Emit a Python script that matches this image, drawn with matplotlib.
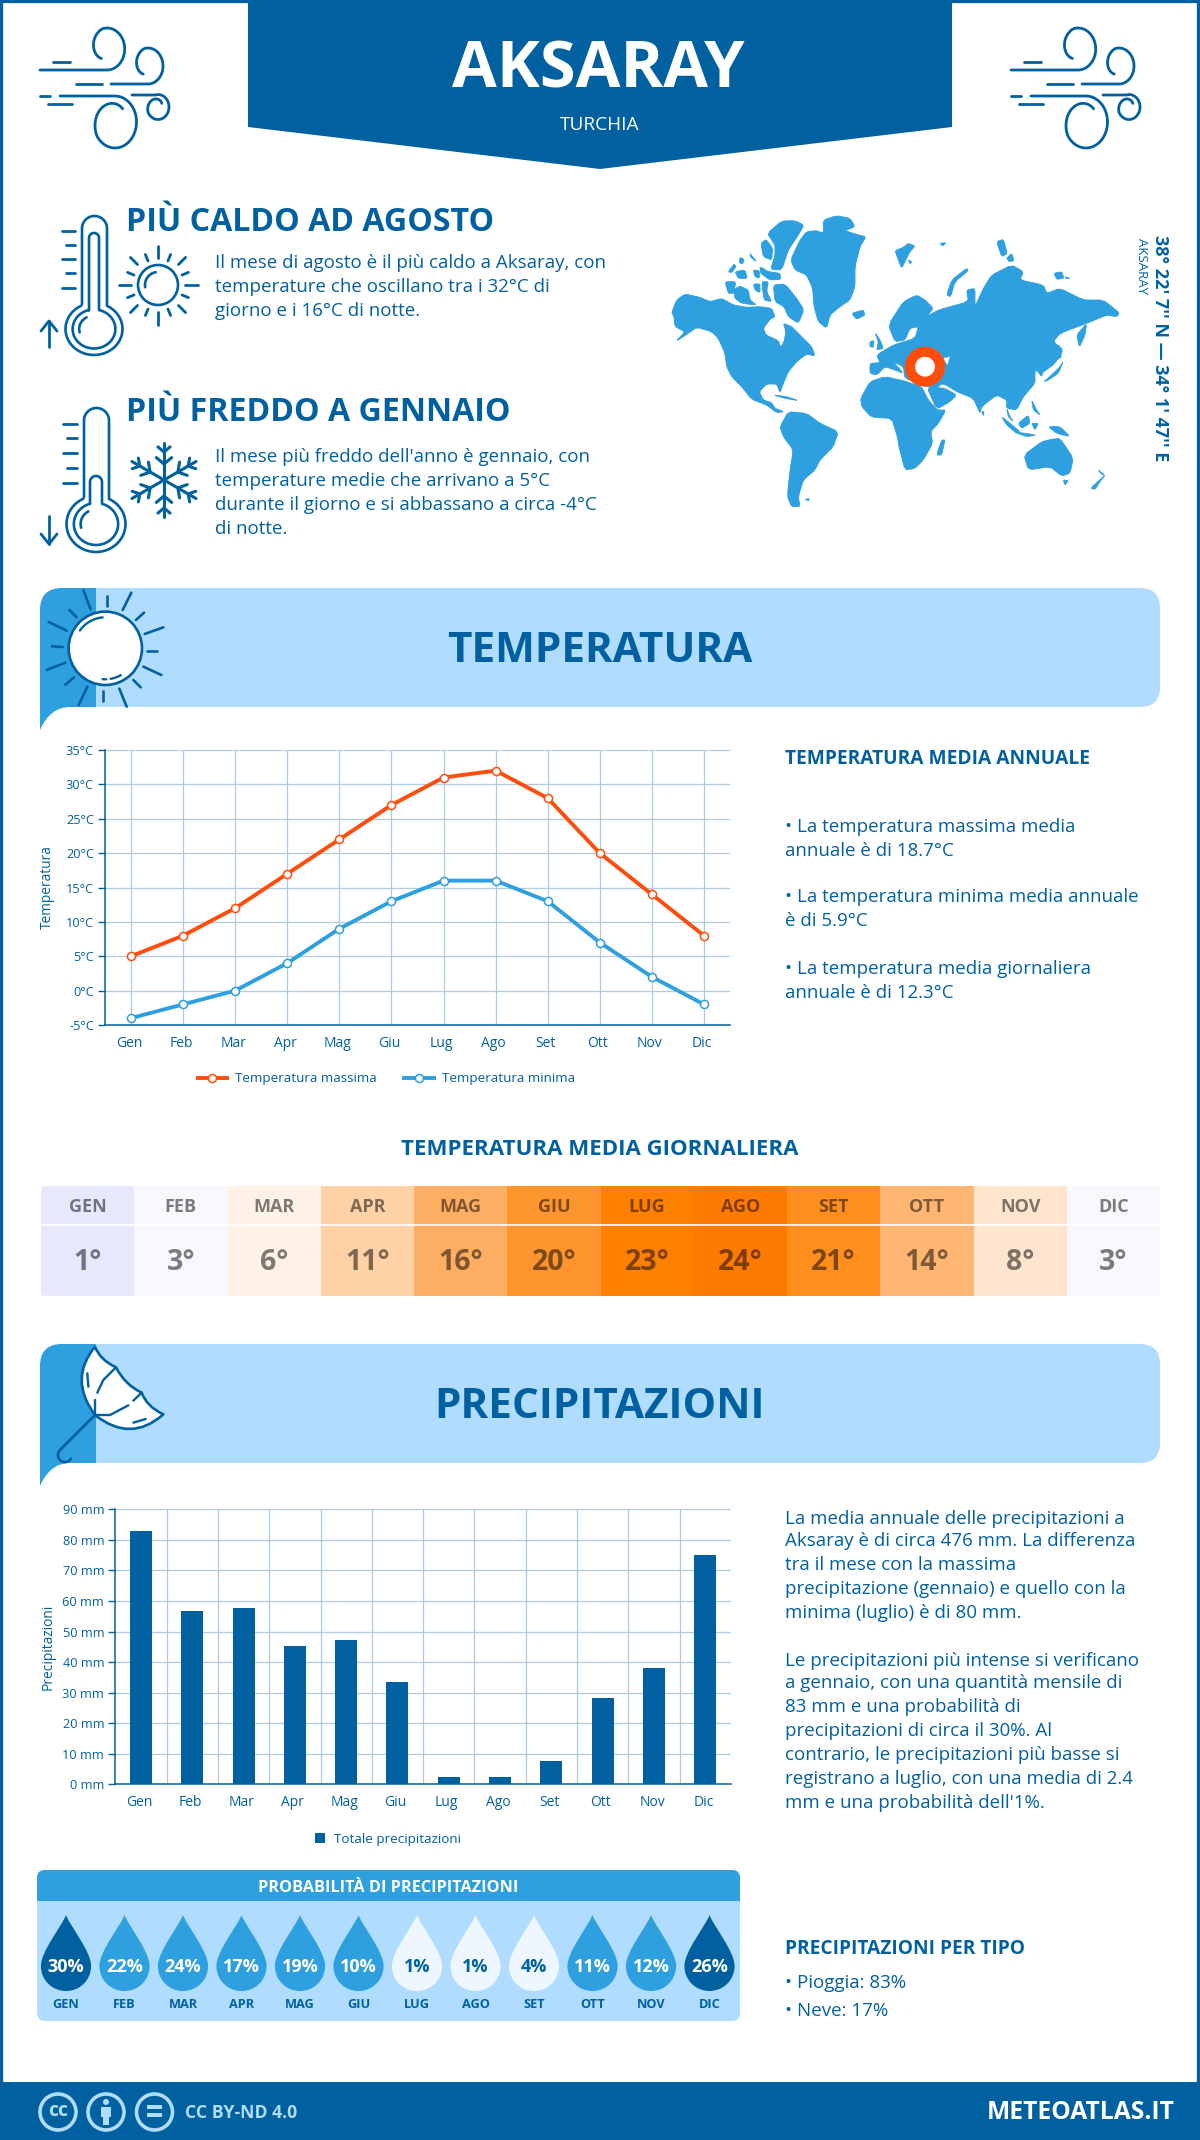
import numpy as np
import matplotlib
matplotlib.use("Agg")
import matplotlib.pyplot as plt
from matplotlib.colors import LinearSegmentedColormap
from matplotlib.markers import MarkerStyle
from matplotlib.patches import Circle, Ellipse, FancyBboxPatch, PathPatch, Polygon, Rectangle
from matplotlib.path import Path
from matplotlib.transforms import ScaledTranslation

plt.rcParams["font.family"] = ["Open Sans", "DejaVu Sans"]

W, H = 1200, 2140
DARK = "#01609f"
MID = "#2e9fdf"
LIGHT = "#afdcff"
PALE = "#eef7ff"
ORANGE = "#ff4d0d"
GRID = "#aecbe0"

months = ["Gen", "Feb", "Mar", "Apr", "Mag", "Giu", "Lug", "Ago", "Set", "Ott", "Nov", "Dic"]
months_upper = ["GEN", "FEB", "MAR", "APR", "MAG", "GIU", "LUG", "AGO", "SET", "OTT", "NOV", "DIC"]

temp_max = [5, 8, 12, 17, 22, 27, 31, 32, 28, 20, 14, 8]
temp_min = [-4, -2, 0, 4, 9, 13, 16, 16, 13, 7, 2, -2]
temp_mean = [1, 3, 6, 11, 16, 20, 23, 24, 21, 14, 8, 3]
temp_ticks = [-5, 0, 5, 10, 15, 20, 25, 30, 35]

precip = [83, 56.7, 57.7, 45.3, 47.2, 33.5, 2.4, 2.4, 7.6, 28.3, 38.1, 75]
precip_ticks = [0, 10, 20, 30, 40, 50, 60, 70, 80, 90]
precip_prob = [30, 22, 24, 17, 19, 10, 1, 1, 4, 11, 12, 26]

# colour scale of the daily mean strip, value -> colour
heat_stops = [(1, "#e8e8fd"), (3, "#f7f7fe"), (6, "#fef2e6"), (8, "#fee5cd"), (11, "#fed2a6"),
              (14, "#feb672"), (16, "#feae62"), (20, "#fe952e"), (21, "#fe8f1f"), (23, "#fe8000"),
              (24, "#ff7a00")]

hot_lines = ["Il mese di agosto è il più caldo a Aksaray, con",
             "temperature che oscillano tra i 32°C di",
             "giorno e i 16°C di notte."]
cold_lines = ["Il mese più freddo dell'anno è gennaio, con",
              "temperature medie che arrivano a 5°C",
              "durante il giorno e si abbassano a circa -4°C",
              "di notte."]
temp_lines = [(825, "• La temperatura massima media"), (850, "annuale è di 18.7°C"),
              (896, "• La temperatura minima media annuale"), (920, "è di 5.9°C"),
              (967, "• La temperatura media giornaliera"), (991, "annuale è di 12.3°C")]
rain_lines = [(1517, "La media annuale delle precipitazioni a"),
              (1540, "Aksaray è di circa 476 mm. La differenza"),
              (1564, "tra il mese con la massima"),
              (1588, "precipitazione (gennaio) e quello con la"),
              (1612, "minima (luglio) è di 80 mm."),
              (1659, "Le precipitazioni più intense si verificano"),
              (1682, "a gennaio, con una quantità mensile di"),
              (1706, "83 mm e una probabilità di"),
              (1730, "precipitazioni di circa il 30%. Al"),
              (1754, "contrario, le precipitazioni più basse si"),
              (1778, "registrano a luglio, con una media di 2.4"),
              (1802, "mm e una probabilità dell'1%.")]

# world map outlines traced by eye from 3x crops: americas crop starts at x=660, the rest at x=860
land_west = [
    [(35,308),(50,270),(75,252),(120,262),(150,275),(185,265),(220,285),(260,292),(300,290),(335,295),(345,320),(330,328),(310,355),(318,375),(355,392),(362,412),(372,395),(378,365),(370,340),(395,350),(420,375),(455,410),(465,438),(440,432),(410,455),(385,485),(370,520),(360,548),(350,522),(320,522),(298,545),(310,570),(335,578),(345,595),(372,605),(350,608),(320,585),(275,568),(245,530),(215,500),(200,470),(195,430),(175,385),(155,365),(110,352),(85,370),(48,394),(75,365),(45,350),(42,320)],
    [(340,225),(375,222),(410,265),(432,300),(415,340),(385,320),(372,290),(345,275)],
    [(322,70),(365,33),(405,32),(432,45),(415,75),(385,120),(365,180),(332,178),(345,135),(345,105)],
    [(303,100),(318,88),(338,115),(335,150),(310,140)],
    [(392,150),(420,90),(440,65),(470,62),(490,70),(490,30),(530,17),(570,25),(585,50),(555,62),(595,75),(618,80),(600,110),(585,170),(585,230),(570,270),(540,290),(510,315),(500,355),(475,335),(462,290),(458,235),(440,195),(405,180)],
    [(195,215),(228,215),(220,250),(205,250)],
    [(220,240),(240,228),(265,240),(270,270),(290,285),(245,280),(225,265)],
    [(280,222),(300,222),(300,248),(285,240)],
    [(305,215),(325,215),(320,245),(335,275),(312,270)],
    [(225,185),(255,180),(262,205),(235,205)],
    [(205,185),(222,162),(228,170),(215,188)],
    [(240,142),(252,148),(248,162),(238,158)],
    [(270,130),(290,155),(272,142)],
    [(280,180),(298,182),(298,205),(285,200)],
    [(300,170),(325,185),(360,190),(362,208),(330,210),(302,190)],
    [(575,310),(610,300),(615,315),(590,328)],
    [(360,650),(385,605),(440,610),(480,640),(535,665),(520,710),(480,750),(465,780),(430,810),(415,860),(420,890),(395,890),(382,860),(390,780),(400,720),(370,680)],
    [(340,555),(380,560),(415,572),(375,565)],
    [(435,868),(448,866),(446,872)],
]
land_east = [
    [(2,565),(30,515),(75,500),(130,512),(185,530),(205,570),(232,600),(258,600),(235,640),(212,665),(218,700),(190,750),(165,775),(135,780),(118,715),(112,680),(95,625),(35,622),(5,590)],
    [(200,530),(255,535),(290,555),(270,575),(230,598)],
    [(30,460),(60,458),(50,435),(100,405),(165,385),(175,350),(150,355),(135,390),(105,395),(85,345),(130,275),(170,255),(195,270),(220,295),(200,320),(235,300),(325,275),(320,240),(345,235),(345,290),(370,235),(395,195),(455,165),(490,185),(480,210),(550,225),(560,250),(600,235),(670,270),(730,270),(778,308),(770,320),(740,315),(680,340),(600,370),(580,395),(610,420),(585,460),(545,490),(525,480),(525,520),(490,560),(470,600),(440,595),(440,570),(410,555),(365,590),(360,610),(340,565),(290,545),(250,520),(225,535),(190,525),(135,505),(130,470),(100,455),(130,490),(105,480),(75,470),(50,495),(30,490)],
    [(45,368),(60,390),(70,415),(50,420),(55,395)],
    [(30,395),(42,392),(40,412),(30,410)],
    [(260,255),(275,210),(320,175),(325,182),(285,215),(272,260)],
    [(105,122),(130,112),(145,100),(165,108),(150,125),(140,145),(125,175),(115,150)],
    [(145,150),(155,155),(150,162)],
    [(410,95),(430,88),(442,130),(425,140)],
    [(440,145),(455,130),(462,152),(448,155)],
    [(240,100),(258,98),(248,108)],
    [(582,190),(605,185),(612,205),(590,208)],
    [(615,200),(630,205),(618,205)],
    [(650,375),(680,340),(675,375),(658,412)],
    [(552,515),(580,490),(600,470),(610,455),(595,490),(565,510)],
    [(595,400),(605,440),(590,450)],
    [(530,480),(550,480),(545,500)],
    [(425,620),(450,640),(480,665),(470,670),(440,645)],
    [(460,665),(530,675),(500,680)],
    [(475,640),(505,615),(510,640),(485,655)],
    [(515,640),(535,640),(525,660)],
    [(515,570),(530,600),(540,615),(520,600)],
    [(565,650),(600,650),(630,680),(590,670)],
    [(440,595),(450,620),(460,635),(445,620)],
    [(492,735),(545,695),(575,688),(600,685),(640,745),(630,790),(605,798),(570,770),(505,780)],
    [(230,735),(245,690),(255,690),(245,735)],
    [(692,835),(735,795),(720,815),(705,838)],
    [(715,780),(735,797),(722,790)],
    [(610,810),(625,812),(615,825)],
    [(365,605),(372,605),(370,617)],
]
inland_sea = [[(250,445),(270,440),(262,465)]]

fig = plt.figure(figsize=(W / 100, H / 100), dpi=100, facecolor="white")

# whole-page axes in pixel coordinates, for the infographic furniture
bg = fig.add_axes([0, 0, 1, 1])
bg.set_xlim(0, W)
bg.set_ylim(H, 0)
bg.axis("off")


def px_axes(left, top, right, bottom):
    ax = fig.add_axes([left / W, 1 - bottom / H, (right - left) / W, (bottom - top) / H])
    ax.patch.set_alpha(0)
    return ax


def put(x, y, s, size, weight="normal", color=DARK, ha="left", **kw):
    return bg.text(x, y + 1.5, s, fontsize=size, fontweight=weight, color=color, ha=ha, va="center", **kw)


def arc(cx, cy, rx, ry, a0, a1, shrink=1.0, n=60):
    t = np.radians(np.linspace(a0, a1, n))
    # radius holds for the first part of the turn, then winds inward
    k = np.interp(np.linspace(0, 1, n), [0, 0.6, 1], [1, 1, shrink])
    return list(zip(cx + rx * k * np.cos(t), cy + ry * k * np.sin(t)))


def stroke(points, lw=2.0, color=DARK, **kw):
    xs, ys = zip(*points)
    bg.plot(xs, ys, color=color, lw=lw, solid_capstyle="round", solid_joinstyle="round", **kw)


def soften(points):
    # one light pass of corner cutting, takes the polygon look off the coastlines
    pts = np.array(points, dtype=float)
    nxt = np.roll(pts, -1, axis=0)
    return np.column_stack([0.85 * pts + 0.15 * nxt, 0.15 * pts + 0.85 * nxt]).reshape(-1, 2)


def shift_labels(ax, dx_px):
    # the month labels sit a touch left of their ticks in the original
    off = ScaledTranslation(dx_px / 100, 0, fig.dpi_scale_trans)
    for label in ax.get_xticklabels():
        label.set_transform(label.get_transform() + off)


def wind_icon(dx):
    def sh(pts):
        return [(x + dx, y) for x, y in pts]
    stroke(sh([(40, 70), (105, 70)] + arc(107, 49, 17.7, 21, 90, -235, 0.55)))
    stroke(sh([(111, 84), (146, 84)] + arc(148, 66, 15, 18, 90, -235, 0.55)))
    stroke(sh([(60, 96), (112, 96)] + arc(115, 122, 21.5, 26, -90, 305, 0.62)))
    stroke(sh([(132, 95), (155, 95)] + arc(158, 107, 11, 12.5, -90, 320, 0.45)))
    for seg in [[(53, 62), (70, 62)], [(76, 84), (102, 84)], [(40, 96), (50, 96)], [(48, 104), (72, 104)]]:
        stroke(sh(seg))


def band(top, title):
    # dark corner tab, then the light ribbon on top of its right part
    bot = top + 119
    tab = Path([(40, bot + 23), (40, top + 22), (40, top), (62, top), (100, top), (100, bot), (70, bot),
                (50, bot), (40, bot + 23), (40, bot + 23)],
               [Path.MOVETO, Path.LINETO, Path.CURVE3, Path.CURVE3, Path.LINETO, Path.LINETO, Path.LINETO,
                Path.CURVE3, Path.CURVE3, Path.CLOSEPOLY])
    bg.add_patch(PathPatch(tab, fc=MID, ec="none"))
    bg.add_patch(FancyBboxPatch((76, top), 1084, bot - top, boxstyle="round,pad=0,rounding_size=20",
                                fc=LIGHT, ec="none"))
    bg.add_patch(Rectangle((96, top), 40, bot - top, fc=LIGHT, ec="none"))
    bg.add_patch(Rectangle((76, top), 20, bot - top, fc=MID, ec="none"))
    put(600, top + 62, title, 30.4, "bold", ha="center")


def thermometer(x0, x1, top, cx, cy, rx, ry, inner):
    a = np.degrees(np.arcsin((x1 - cx) / rx))
    r = (x1 - x0) / 2
    stroke([(x0, cy - ry * 0.95)] + arc((x0 + x1) / 2, top + r, r, r, 180, 360)
           + arc(cx, cy, rx, ry, -90 + a, 270 - a), lw=1.9)
    i0, i1, itop = inner
    a = np.degrees(np.arcsin((i1 - cx) / (rx * 0.75)))
    r = (i1 - i0) / 2
    stroke([(i0, cy - ry * 0.72)] + arc((i0 + i1) / 2, itop + r, r, r, 180, 360)
           + arc(cx, cy, rx * 0.75, ry * 0.75, -90 + a, 270 - a), lw=1.9)
    stroke(arc(cx, cy, rx * 0.52, ry * 0.52, 165, 240), lw=1.9)


# page frame and header
bg.add_patch(Rectangle((0, 0), W, H, fc="none", ec=DARK, lw=4.5))
bg.add_patch(Polygon([(248, 0), (952, 0), (952, 127), (600, 169), (248, 127)], fc=DARK, ec="none"))
put(598, 70, "AKSARAY", 46.7, "bold", "white", ha="center")
put(600, 124, "TURCHIA", 13.7, color="white", ha="center")
wind_icon(0)
wind_icon(971)

# hottest month block
put(126, 221, "PIÙ CALDO AD AGOSTO", 23.1, "bold")
for y, s in zip([262, 286, 310], hot_lines):
    put(215, y, s, 13.5)
thermometer(82, 107, 216, 94, 329, 28.5, 26, (89, 99, 233))
for i, y in enumerate([231, 245, 259, 273, 288]):
    stroke([(62 if i % 4 == 0 or i == 2 else 66, y), (75, y)], lw=2)
stroke([(49, 347), (49, 321)], lw=2)
stroke([(41, 331), (49, 321), (57, 331)], lw=2)
bg.add_patch(Circle((158, 285), 20, fc="none", ec=DARK, lw=1.9))
stroke(arc(158, 285, 13, 13, 170, 260), lw=1.9)
for i, ang in enumerate(np.arange(0, 360, 22.5)):
    r0, r1 = {0: (27, 39.5), 1: (26, 33)}[i % 2] if i % 4 != 2 else (29, 39)
    t = np.radians(ang)
    stroke([(158 + r0 * np.cos(t), 285 + r0 * np.sin(t)), (158 + r1 * np.cos(t), 285 + r1 * np.sin(t))], lw=2)

# coldest month block
put(126, 411, "PIÙ FREDDO A GENNAIO", 23.1, "bold")
for y, s in zip([456, 480, 504, 527], cold_lines):
    put(215, y, s, 13.5)
thermometer(84, 109, 408, 96, 524, 29.5, 28, (90, 102, 476))
for i, y in enumerate([424, 438, 453, 468, 483]):
    stroke([(63 if i % 2 == 0 else 67, y), (77, y)], lw=2)
stroke([(49, 516), (49, 544)], lw=2)
stroke([(41, 534), (49, 544), (57, 534)], lw=2)
for ang in range(30, 360, 60):
    t = np.radians(ang)
    ux, uy = np.cos(t), np.sin(t)
    stroke([(164, 480), (164 + 37 * ux, 480 + 37 * uy)], lw=2.2)
    for d, s in [(16, 10), (28, 8)]:
        for side in (-1, 1):
            t2 = t + side * np.radians(50)
            stroke([(164 + d * ux, 480 + d * uy),
                    (164 + d * ux + s * np.cos(t2), 480 + d * uy + s * np.sin(t2))], lw=2.2)

# world map and pin
for x0, group in ((660, land_west), (860, land_east)):
    for poly in group:
        pts = [(x0 + px / 3, 210 + py / 3) for px, py in soften(poly)]
        bg.add_patch(Polygon(pts, fc=MID, ec=MID, lw=0.6, joinstyle="round"))
for poly in inland_sea:
    bg.add_patch(Polygon([(860 + px / 3, 210 + py / 3) for px, py in poly], fc="white", ec="none"))
bg.add_patch(Circle((925, 366.7), 15, fc="white", ec=ORANGE, lw=7.3))
put(1160, 347, "38° 22' 7'' N — 34° 1' 47'' E", 13, "bold", ha="center", rotation=-90)
put(1141, 264, "AKSARAY", 9.5, ha="center", rotation=-90)

# temperature section
band(588, "TEMPERATURA")
bg.add_patch(Circle((105.3, 648.3), 36.7, fc="white", ec=DARK, lw=1.9, zorder=3))
sun_rays = [(250,60,272,118),(320,78,320,108),(394,68,368,120),(432,128,408,150),(490,172,434,192),
            (472,242,442,242),(484,315,430,290),(422,352,400,330),(380,410,358,356),(308,394,308,362),
            (236,405,262,350),(196,344,222,322),(140,300,196,278),(156,229,188,231),(146,156,200,182),
            (208,120,230,142)]
for x0, y0, x1, y1 in sun_rays:
    stroke([(x0 / 3, 570 + y0 / 3), (x1 / 3, 570 + y1 / 3)], lw=1.9)
stroke(arc(105.3, 648.3, 31, 31, 215, 265), lw=1.7, zorder=4)
stroke(arc(105.3, 648.3, 31, 31, 60, 80), lw=1.7, zorder=4)
stroke(arc(105.3, 648.3, 31, 31, 88, 95), lw=1.7, zorder=4)

ax = px_axes(105, 750, 730, 1025)
x = np.arange(12)
ax.plot(x, temp_max, color=ORANGE, lw=2.8, marker="o", ms=5.8, mfc="white", mew=1.1, label="Temperatura massima", zorder=3)
ax.plot(x, temp_min, color=MID, lw=2.8, marker="o", ms=5.8, mfc="white", mew=1.1, label="Temperatura minima", zorder=3)
ax.set_xlim(-0.5, 11.5)
ax.set_ylim(-5, 35)
ax.set_xticks(x, months)
ax.set_yticks(temp_ticks, [f"{t}°C" for t in temp_ticks])
ax.grid(color=GRID, lw=0.9)
ax.set_axisbelow(True)
ax.tick_params(axis="x", length=0, labelsize=10, labelcolor=DARK, pad=8)
ax.tick_params(axis="y", length=5, width=1, color=DARK, labelsize=9.2, labelcolor=DARK, pad=3)
shift_labels(ax, -2)
for side in ("top", "right"):
    ax.spines[side].set_visible(False)
for side in ("left", "bottom"):
    ax.spines[side].set_color(DARK)
    ax.spines[side].set_linewidth(1.1)
ax.set_ylabel("Temperatura", fontsize=9.9, color=DARK)
ax.yaxis.set_label_coords(-0.08, 0.5)
ax.legend(loc="center", bbox_to_anchor=(0.45, -0.196), ncol=2, frameon=False, fontsize=9.7, labelcolor=DARK,
          handlelength=2.2, columnspacing=2.0, handletextpad=0.6)

put(785, 758, "TEMPERATURA MEDIA ANNUALE", 13.75, "bold")
for y, s in temp_lines:
    put(785, y, s, 13.5)

put(600, 1148, "TEMPERATURA MEDIA GIORNALIERA", 16.05, "bold", ha="center")

# daily mean strip: one colormapped mesh, label row above the value row
heat_cmap = LinearSegmentedColormap.from_list(
    "heat", [((v - 1) / 23, c) for v, c in heat_stops], N=512)
hm = px_axes(41, 1186, 1160, 1296)
hm.axis("off")
mesh = hm.pcolormesh(np.arange(13), [0, 1], np.array([temp_mean]), cmap=heat_cmap, vmin=1, vmax=24)
hm.set_xlim(0, 12)
hm.set_ylim(1, 0)
clip = FancyBboxPatch((0.0, 0.0), 1, 1, boxstyle="round,pad=0,rounding_size=0.01",
                      transform=hm.transAxes, fc="none", ec="none")
hm.add_patch(clip)
mesh.set_clip_path(clip)
hm.axhline(39 / 110, color="white", lw=1.2)
for i, (m, v) in enumerate(zip(months_upper, temp_mean)):
    hm.text(i + 0.5, 20.5 / 110, m, ha="center", va="center", fontsize=13, fontweight="bold", color="black", alpha=0.5)
    hm.text(i + 0.5, 76 / 110, f"{v}°", ha="center", va="center", fontsize=20.5, fontweight="bold", color="black", alpha=0.5)

# precipitation section
band(1344, "PRECIPITAZIONI")
canopy = [(285, 50), (300, 90), (348, 112), (375, 165), (425, 188), (440, 230), (490, 253),
          (392, 340), (285, 255), (205, 148), (285, 50)]
canopy_codes = [Path.MOVETO] + [Path.CURVE3] * 10
canopy = [(px / 3, 1330 + py / 3) for px, py in canopy]
bg.add_patch(PathPatch(Path(canopy, canopy_codes), fc="white", ec=DARK, lw=1.9, zorder=3, joinstyle="round"))
stroke([(285 / 3, 1330 + 255 / 3), (180 / 3, 1330 + 360 / 3)] + arc(65, 1455, 7, 7, 225, 30), lw=1.9)
for pts in [[(285, 255), (285, 210)], [(292, 188), (310, 150), (348, 112)], [(285, 255), (330, 255), (385, 226)],
            [(400, 212), (425, 188)], [(262, 130), (265, 170)], [(400, 278), (437, 267)]]:
    stroke([(px / 3, 1330 + py / 3) for px, py in pts], lw=1.7, zorder=4)

ax = px_axes(115.3, 1509.3, 731, 1784.3)
ax.bar(x, precip, width=22 / 51.3, color=DARK, label="Totale precipitazioni", zorder=3)
ax.set_xlim(-0.5, 11.5)
ax.set_ylim(0, 90)
ax.set_xticks(x, months)
ax.set_xticks(x[:-1] + 0.5, minor=True)
ax.set_yticks(precip_ticks, [f"{t} mm" for t in precip_ticks])
ax.grid(axis="y", color=GRID, lw=0.9)
ax.grid(axis="x", which="minor", color=GRID, lw=0.9)
ax.set_axisbelow(True)
ax.tick_params(axis="x", which="both", length=0)
ax.tick_params(axis="x", labelsize=10, labelcolor=DARK, pad=8)
ax.tick_params(axis="y", length=5, width=1, color=DARK, labelsize=9.2, labelcolor=DARK, pad=3)
shift_labels(ax, -2)
for side in ("top", "right"):
    ax.spines[side].set_visible(False)
for side in ("left", "bottom"):
    ax.spines[side].set_color(DARK)
    ax.spines[side].set_linewidth(1.1)
ax.set_ylabel("Precipitazioni", fontsize=9.9, color=DARK)
ax.yaxis.set_label_coords(-0.097, 0.5)
ax.legend(loc="center", bbox_to_anchor=(0.443, -0.2), frameon=False, fontsize=9.7, labelcolor=DARK,
          handlelength=0.7, handleheight=0.7, handletextpad=0.7)

for y, s in rain_lines:
    put(785, y, s, 13.5)

# probability panel
bg.add_patch(FancyBboxPatch((37, 1870), 703, 151, boxstyle="round,pad=0,rounding_size=8", fc=LIGHT, ec="none"))
bg.add_patch(FancyBboxPatch((37, 1870), 703, 31, boxstyle="round,pad=0,rounding_size=8", fc=MID, ec="none"))
bg.add_patch(Rectangle((37, 1885), 703, 16, fc=MID, ec="none"))
put(388, 1886, "PROBABILITÀ DI PRECIPITAZIONI", 11.7, "bold", "white", ha="center")

drop = Path([(0, 1), (0.1, 0.72), (0.66, 0.05), (0.66, -0.34), (0.66, -0.72), (0.36, -1), (0, -1),
             (-0.36, -1), (-0.66, -0.72), (-0.66, -0.34), (-0.66, 0.05), (-0.1, 0.72), (0, 1), (0, 1)],
            [Path.MOVETO] + [Path.CURVE4] * 12 + [Path.CLOSEPOLY])
pb = px_axes(36.75, 1870, 738.75, 2021)
pb.axis("off")
pb.set_xlim(-0.5, 11.5)
pb.set_ylim(2021, 1870)
drop_colors = [DARK if p >= 25 else MID if p >= 5 else PALE for p in precip_prob]
pb.scatter(x, [1953] * 12, marker=MarkerStyle(drop), s=(76 * 0.72) ** 2, c=drop_colors, linewidths=0)
for i, (m, p) in enumerate(zip(months_upper, precip_prob)):
    pb.text(i, 1967, f"{p}%", ha="center", va="center", fontsize=13, fontweight="bold",
            color="white" if p >= 5 else DARK)
    pb.text(i, 2004, m, ha="center", va="center", fontsize=9.2, fontweight="bold", color=DARK)

put(785, 1948, "PRECIPITAZIONI PER TIPO", 13.75, "bold")
put(785, 1981, "• Pioggia: 83%", 13.5)
put(785, 2009, "• Neve: 17%", 13.5)

# footer
bg.add_patch(Rectangle((0, 2082), W, 58, fc=DARK, ec="none"))
for cx in (58, 106, 154.5):
    bg.add_patch(Ellipse((cx, 2112), 36, 36, fc="none", ec=LIGHT, lw=2.6))
put(58, 2110, "cc", 14, "bold", LIGHT, ha="center")
bg.add_patch(Circle((106, 2102), 3, fc=LIGHT, ec="none"))
bg.add_patch(Rectangle((101, 2107), 10, 10, fc=LIGHT, ec="none"))
bg.add_patch(Rectangle((103, 2117), 6, 8, fc=LIGHT, ec="none"))
bg.add_patch(Rectangle((147, 2105), 15, 4, fc=LIGHT, ec="none"))
bg.add_patch(Rectangle((147, 2113), 15, 4, fc=LIGHT, ec="none"))
put(185, 2111, "CC BY-ND 4.0", 12.7, "bold", LIGHT)
put(1175, 2111, "METEOATLAS.IT", 17.7, "bold", "white", ha="right")

fig.savefig("out.png", dpi=100, facecolor="white")
